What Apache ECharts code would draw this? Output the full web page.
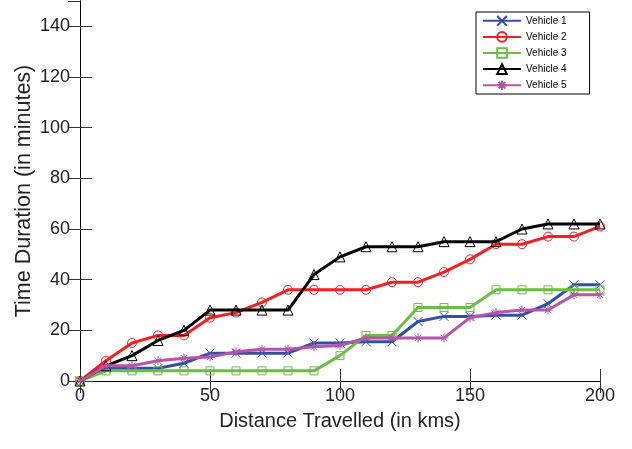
<!DOCTYPE html>
<html><head><meta charset="utf-8">
<script src="https://cdn.jsdelivr.net/npm/echarts@6/dist/echarts.min.js"></script>
<style>html,body{margin:0;padding:0;background:#fff}#c{width:632px;height:449px}</style>
</head><body><div id="c"></div>
<script>
const distances = [0,10,20,30,40,50,60,70,80,90,100,110,120,130,140,150,160,170,180,190,200];
const vehicle1 = [0,5,5,5,7,11,11,11,11,15,15,15.5,15.5,23.5,25.5,25.5,26,26,30.5,38,38];
const vehicle2 = [0,8,15,18,18,25,27,31,36,36,36,36,39,39,43,48,54,54,57,57,61];
const vehicle3 = [0,4,4,4,4,4,4,4,4,4,10,18,18,29,29,29,36,36,36,36,36];
const vehicle4 = [0,6,10,16,20,28,28,28,28,42,49,53,53,53,55,55,55,60,62,62,62];
const vehicle5 = [0,6,6,8,9,9.5,11.5,12.5,12.5,13.5,14,17,17,17,17,25,27,28,28,34,34];
const seriesNames = ['Vehicle 1','Vehicle 2','Vehicle 3','Vehicle 4','Vehicle 5'];
const xTicks = {min:0,max:200,interval:50};
const yTicks = {min:0,max:150,interval:20};

const colors = ['#3050A8','#F22020','#6ABF40','#000000','#B455A8'];
const symbols = [
  'path://M0,0L1,1M1,0L0,1',
  'circle',
  'rect',
  'triangle',
  'path://M0.5,0L0.5,1M0,0.5L1,0.5M0.15,0.15L0.85,0.85M0.85,0.15L0.15,0.85'
];
const sizes = [9,9,8,10,9];
const allData = [vehicle1,vehicle2,vehicle3,vehicle4,vehicle5];
const font = 'Liberation Sans, Arial, sans-serif';

const series = allData.map((vals,i)=>({
  name: seriesNames[i],
  type:'line',
  data: distances.map((d,j)=>[d, vals[j]]),
  symbol: symbols[i],
  symbolSize: sizes[i],
  showAllSymbol: true,
  lineStyle:{color:colors[i], width:3},
  itemStyle:{color:'rgba(0,0,0,0)', borderColor:colors[i], borderWidth:1},
  emphasis:{disabled:true},
  animation:false,
  z: 2+i
}));

const axisCommon = {
  axisLine:{show:true,lineStyle:{color:'#000',width:1}},
  axisTick:{show:true,inside:true,length:12,lineStyle:{color:'#333',width:1}},
  splitLine:{show:false}
};

const chart = echarts.init(document.getElementById('c'),null,{renderer:'canvas'});
chart.setOption({
  animation:false,
  backgroundColor:'#fff',
  grid:{left:80,right:32,top:1,bottom:68,containLabel:false,outerBoundsMode:'none'},
  legend:{
    orient:'vertical', left:476, top:12,
    data: seriesNames,
    backgroundColor:'#fff', borderColor:'#000', borderWidth:1, borderRadius:0,
    padding:[3,23,3,6], itemGap:4.5, itemWidth:38, itemHeight:12,
    textStyle:{fontFamily:font,fontSize:10,color:'#000'}
  },
  xAxis:[
    Object.assign({type:'value',position:'bottom',min:xTicks.min,max:xTicks.max,interval:xTicks.interval,
      name:'Distance Travelled (in kms)',nameLocation:'middle',nameGap:30,nameMoveOverlap:false,
      nameTextStyle:{fontFamily:font,fontSize:20,color:'#222'},
      axisLabel:{fontFamily:font,fontSize:18,color:'#222',margin:6}},axisCommon),
    Object.assign({type:'value',position:'top',min:xTicks.min,max:xTicks.max,interval:xTicks.interval,
      axisLabel:{show:false}},axisCommon)
  ],
  yAxis:[
    Object.assign({type:'value',position:'left',min:yTicks.min,max:yTicks.max,interval:yTicks.interval,
      name:'Time Duration (in minutes)',nameLocation:'middle',nameGap:45,nameMoveOverlap:false,
      nameTextStyle:{fontFamily:font,fontSize:21.5,color:'#222'},
      axisLabel:{fontFamily:font,fontSize:18,color:'#222',margin:10,showMaxLabel:false}},axisCommon),
    Object.assign({type:'value',position:'right',min:yTicks.min,max:yTicks.max,interval:yTicks.interval,
      axisLabel:{show:false}},axisCommon)
  ],
  series: series
});
</script></body></html>
